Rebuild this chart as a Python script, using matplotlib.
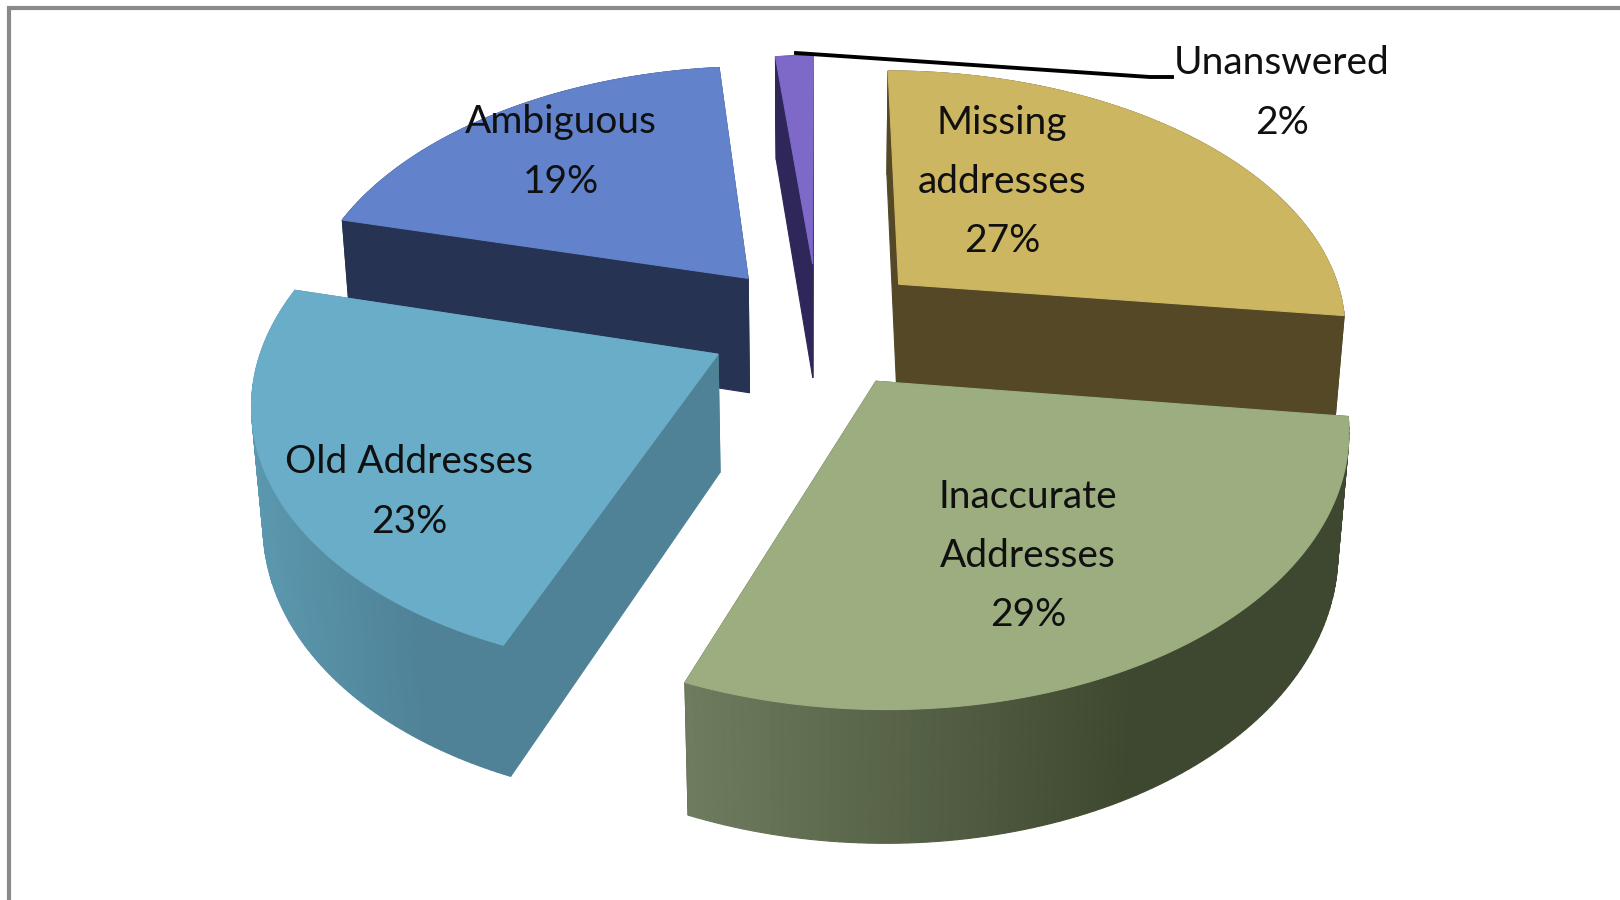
import numpy as np
import matplotlib
matplotlib.use("Agg")
import matplotlib.pyplot as plt
from matplotlib.colors import to_rgb

labels = ["Missing\naddresses", "Inaccurate\nAddresses", "Old Addresses", "Ambiguous", "Unanswered"]
shares = [27.0, 29.0, 23.0, 19.4, 1.6]

top_colors = ["#CDB661", "#9CAE80", "#6AADC8", "#6283CC", "#7E68C8"]
cut_colors = ["#544827", "#3E4830", "#4F8296", "#263353", "#2F2759"]
wall_left = ["#544827", "#6F7C5E", "#5B98AF", "#263353", "#2F2759"]
wall_right = ["#544827", "#3E4830", "#4F8296", "#263353", "#2F2759"]
label_xy = [(1002, 182), (1028, 556), (409, 492), (561, 152), (1282, 93)]

CX, CY, RX, RY, P, Q, DEPTH, EXPLODE = 818, 325, 450, 258, 0.155, 0.02, 119, 0.245


def project(x, y, z=0.0):
    w = 1 + P * y + Q * z
    return CX + RX * x / w, CY + (-RY * y + DEPTH * z) / w


fig = plt.figure(figsize=(16.2, 9), dpi=100)
ax = fig.add_axes([0, 0, 1, 1])
ax.set_xlim(0, 1620)
ax.set_ylim(900, 0)
ax.axis("off")
ax.plot([9, 9, 1620], [900, 7.5, 7.5], color="#8A8A8A", lw=3, solid_joinstyle="miter")

fracs = np.array(shares) / sum(shares)
ends = np.cumsum(fracs) * 2 * np.pi
starts = ends - fracs * 2 * np.pi
order = [3, 4, 0, 2, 1]

for i in order:
    a0, a1 = starts[i], ends[i]
    mid = (a0 + a1) / 2
    ox, oy = EXPLODE * np.sin(mid), EXPLODE * np.cos(mid)
    th = np.linspace(a0, a1, 101)
    xs, ys = ox + np.sin(th), oy + np.cos(th)
    faces = []
    for (x0, y0, x1, y1) in [(ox, oy, xs[0], ys[0]), (ox, oy, xs[-1], ys[-1])]:
        p = [project(x0, y0), project(x1, y1), project(x1, y1, 1), project(x0, y0, 1)]
        faces.append(((y0 + y1) / 2, p, cut_colors[i]))
    px = np.array([project(a, b)[0] for a, b in zip(xs, ys)])
    lo, hi = px.min(), px.max()
    c0, c1 = np.array(to_rgb(wall_left[i])), np.array(to_rgb(wall_right[i]))
    for k in range(len(th) - 1):
        p = [project(xs[k], ys[k]), project(xs[k + 1], ys[k + 1]),
             project(xs[k + 1], ys[k + 1], 1), project(xs[k], ys[k], 1)]
        t = np.clip(((px[k] + px[k + 1]) / 2 - lo) / max(hi - lo, 1) * 1.5, 0, 1)
        faces.append(((ys[k] + ys[k + 1]) / 2, p, tuple(c0 + (c1 - c0) * t)))
    for _, p, c in sorted(faces, key=lambda f: -f[0]):
        ax.fill(*zip(*p), facecolor=c, edgecolor=c, lw=0.8, zorder=2)
    top = [project(ox, oy)] + [project(a, b) for a, b in zip(xs, ys)]
    ax.fill(*zip(*top), facecolor=top_colors[i], edgecolor=top_colors[i], lw=0.8, zorder=2)

ax.plot([796, 1150, 1172], [53, 77, 77], color="black", lw=2.8, zorder=3)
for name, v, (x, y) in zip(labels, shares, label_xy):
    ax.text(x, y, f"{name}\n{round(v)}%", ha="center", va="center", fontsize=28, color="#101010",
            family=["Lato", "DejaVu Sans"], linespacing=1.8, zorder=4)
fig.savefig("out.png", dpi=100)
